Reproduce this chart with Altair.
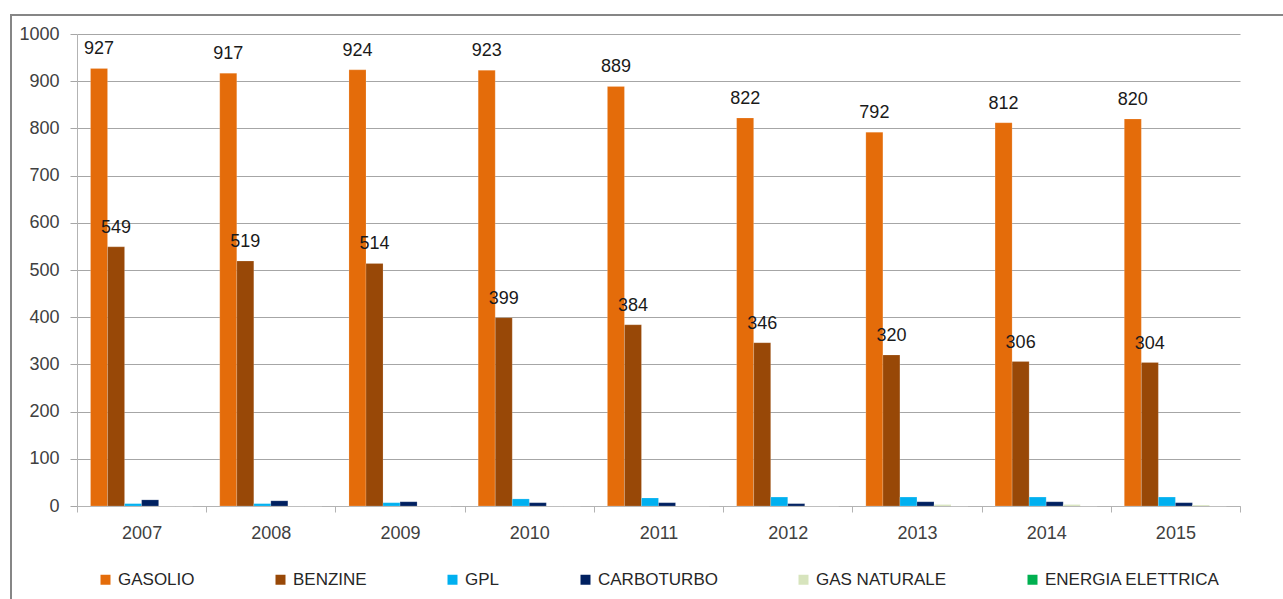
import altair as alt
import pandas as pd

# Consumption by fuel type, 2007-2015
years = ["2007", "2008", "2009", "2010", "2011", "2012", "2013", "2014", "2015"]
fuels = ["GASOLIO", "BENZINE", "GPL", "CARBOTURBO", "GAS NATURALE", "ENERGIA ELETTRICA"]
colors = ["#E46C0A", "#984807", "#00B0F0", "#002060", "#D7E4BD", "#00B050"]

gasolio = [927, 917, 924, 923, 889, 822, 792, 812, 820]
benzine = [549, 519, 514, 399, 384, 346, 320, 306, 304]
gpl = [5, 5, 7, 15, 17, 19, 19, 19, 19]
carboturbo = [13, 11, 9, 7, 7, 5, 9, 9, 7]
gas_naturale = [0, 0, 0, 0, 0, 0, 3, 3, 2]
energia_elettrica = [0, 0, 0, 0, 0, 0, 0, 0, 0]

series = [gasolio, benzine, gpl, carboturbo, gas_naturale, energia_elettrica]
rows = []
for fuel, vals in zip(fuels, series):
    for year, v in zip(years, vals):
        rows.append({"anno": year, "carburante": fuel, "valore": v})
df = pd.DataFrame(rows)

labelled = ["GASOLIO", "BENZINE"]

FONT = "Liberation Sans"

x_enc = alt.X(
    "anno:N",
    sort=years,
    title=None,
    scale=alt.Scale(paddingInner=0, paddingOuter=0),
    axis=alt.Axis(
        labelAngle=0,
        labelFontSize=18,
        labelColor="#404040",
        labelFont=FONT,
        labelPadding=12,
        tickBand="extent",
        tickSize=6,
        tickColor="#b3b3b3",
        domainColor="#b3b3b3",
        grid=False,
    ),
)
xoff_enc = alt.XOffset(
    "carburante:N",
    sort=fuels,
    scale=alt.Scale(domain=fuels, paddingInner=0, paddingOuter=0.794),
)
y_enc = alt.Y(
    "valore:Q",
    title=None,
    scale=alt.Scale(domain=[0, 1000], nice=False),
    axis=alt.Axis(
        values=list(range(0, 1001, 100)),
        format="d",
        labelFontSize=18,
        labelColor="#404040",
        labelFont=FONT,
        labelPadding=11,
        tickSize=7,
        tickColor="#a6a6a6",
        domainColor="#b3b3b3",
        gridColor="#a6a6a6",
        gridWidth=1,
    ),
)
color_enc = alt.Color(
    "carburante:N",
    sort=fuels,
    scale=alt.Scale(domain=fuels, range=colors),
    legend=alt.Legend(
        title=None,
        orient="none",
        direction="horizontal",
        columns=6,
        legendX=20,
        legendY=537,
        symbolType="square",
        symbolSize=100,
        symbolStrokeWidth=0,
        symbolOpacity=1,
        labelFontSize=17,
        labelFont=FONT,
        labelColor="#262626",
        labelOffset=4,
        labelLimit=400,
        columnPadding=77,
    ),
)

bars = alt.Chart(df).mark_bar(stroke="#ffffff", strokeWidth=0.5, strokeOpacity=0.35).encode(
    x=x_enc, xOffset=xoff_enc, y=y_enc, color=color_enc
)

labels = (
    alt.Chart(df)
    .transform_filter(alt.FieldOneOfPredicate(field="carburante", oneOf=labelled))
    .mark_text(dy=-19, fontSize=18, font=FONT, color="#1a1a1a", baseline="middle")
    .encode(x=x_enc, xOffset=xoff_enc, y=y_enc, text="valore:Q")
)

# outer frame around the chart area
frame = (
    alt.Chart(pd.DataFrame({"f": [0]}))
    .mark_rect(fill=None, stroke="#868686", strokeWidth=2)
    .encode(x=alt.value(-66), y=alt.value(-19), x2=alt.value(1260), y2=alt.value(600))
)

chart = (
    alt.layer(frame, bars, labels)
    .properties(
        width=1163,
        height=472,
        autosize=alt.AutoSizeParams(type="none"),
        padding={"left": 77, "top": 34, "right": 43, "bottom": 93},
        background="#ffffff",
    )
    .configure_view(stroke=None)
)

chart.save("out.html", embed_options={"renderer": "svg", "actions": False})
